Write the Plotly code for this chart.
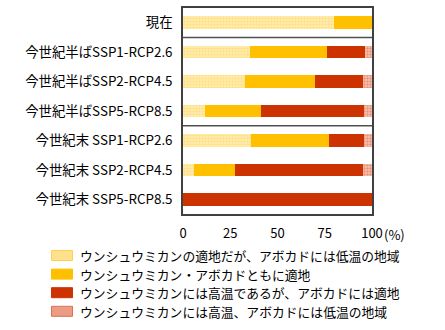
import plotly.graph_objects as go

categories = [
    "現在",
    "今世紀半ばSSP1-RCP2.6",
    "今世紀半ばSSP2-RCP4.5",
    "今世紀半ばSSP5-RCP8.5",
    "今世紀末 SSP1-RCP2.6",
    "今世紀末 SSP2-RCP4.5",
    "今世紀末 SSP5-RCP8.5",
]
series_names = [
    "ウンシュウミカンの適地だが、アボカドには低温の地域",
    "ウンシュウミカン・アボカドともに適地",
    "ウンシュウミカンには高温であるが、アボカドには適地",
    "ウンシュウミカンには高温、アボカドには低温の地域",
]
s_cold_avocado = [80, 35.5, 33, 11.5, 36, 6, 0]
s_both = [20, 40.5, 37, 30, 41.5, 21.5, 0]
s_hot_mikan = [0, 20.5, 25, 54.5, 18.5, 67.5, 100]
s_neither = [0, 3.5, 5, 4, 4, 5, 0]
tick_vals = [0, 25, 50, 75, 100]
tick_text = ["0", "25", "50", "75", "100"]

FONT = "Noto Sans CJK JP"
W, H = 445, 330
ML, MR, MT, MB = 183, 73, 8, 116
PW, PH = W - ML - MR, H - MT - MB

def px_x(px):
    return (px - ML) / PW

def px_y(py):
    return (H - MB - py) / PH

fig = go.Figure()

styles = [
    dict(color="#FFE699", pattern=dict(shape=".", fgcolor="#FFD050", bgcolor="#FFEFB8", size=3, solidity=0.5)),
    dict(color="#FFC000"),
    dict(color="#CC3300"),
    dict(color="#E8886A", pattern=dict(shape=".", fgcolor="#DD6040", bgcolor="#F6C8B8", size=3, solidity=0.5)),
]
swatch_fill = ["#FFE08C", "#FFC000", "#CC3300", "#EC9C84"]
swatch_line = ["#FFD050", "#FFC000", "#CC3300", "#E07050"]

for name, vals, st in zip(series_names, [s_cold_avocado, s_both, s_hot_mikan, s_neither], styles):
    fig.add_trace(go.Bar(
        y=categories, x=vals, name=name, orientation="h", showlegend=False,
        marker=dict(line=dict(width=0), **st),
    ))

# panel frames
for yv in [0.5, 3.5]:
    fig.add_shape(type="line", xref="paper", x0=0, x1=1, yref="y", y0=yv, y1=yv,
                  line=dict(color="#505050", width=1.5))

# custom legend
for i, name in enumerate(series_names):
    cy = 255.5 + i * 18.6
    fig.add_shape(type="rect", xref="paper", yref="paper",
                  x0=px_x(51.5), x1=px_x(72.5), y0=px_y(cy + 5), y1=px_y(cy - 5),
                  fillcolor=swatch_fill[i], line=dict(color=swatch_line[i], width=1))
    fig.add_annotation(text=name, xref="paper", yref="paper", x=px_x(79), y=px_y(cy),
                       xanchor="left", yanchor="middle", showarrow=False,
                       borderpad=0,
                       font=dict(family=FONT, size=12.8, color="#000"))

fig.add_annotation(text="(%)", xref="paper", yref="paper", x=px_x(382), y=0, yanchor="top",
                   xanchor="left", yshift=-9, showarrow=False,
                   font=dict(family=FONT, size=13, color="#000"))

fig.update_layout(
    width=W, height=H,
    margin=dict(l=ML, r=MR, t=MT, b=MB, autoexpand=False),
    barmode="stack", bargap=0.57,
    plot_bgcolor="white", paper_bgcolor="white",
    font=dict(family=FONT, size=14, color="#000"),
    showlegend=False,
    xaxis=dict(range=[0, 100], tickvals=tick_vals, ticktext=tick_text, showgrid=False,
               zeroline=False, showline=True, linecolor="#404040", linewidth=1.5, mirror=True,
               ticks="", ticklabelstandoff=7, tickfont=dict(family=FONT, size=13)),
    yaxis=dict(range=[6.5, -0.5], showgrid=False, zeroline=False, showline=True,
               linecolor="#404040", linewidth=1.5, mirror=True, ticks="",
               ticklabelstandoff=6, tickfont=dict(family=FONT, size=13.4)),
)

fig.write_html("out.html")
